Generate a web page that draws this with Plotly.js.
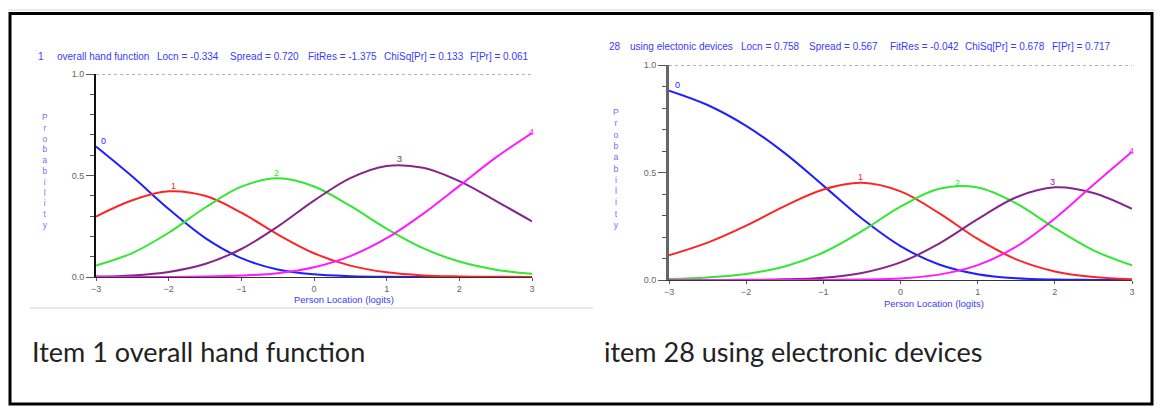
<!DOCTYPE html>
<html>
<head>
<meta charset="utf-8">
<script src="https://cdn.plot.ly/plotly-3.0.1.min.js"></script>
<style>html,body{margin:0;padding:0;background:#fff;}#chart{width:1160px;height:408px;}</style>
</head>
<body>
<div id="chart"></div>
<script>
// Person location (logits)
const logits = [-3, -2.5, -2, -1.5, -1, -0.5, 0, 0.5, 1, 1.5, 2, 2.5, 3];
const categories = ['0', '1', '2', '3', '4'];

// Item 1: overall hand function - category probabilities
const item1_cat0 = [0.643, 0.495, 0.335, 0.193, 0.093, 0.037, 0.013, 0.004, 0.001, 0.0003, 0.0001, 0, 0];
const item1_cat1 = [0.298, 0.378, 0.422, 0.400, 0.317, 0.210, 0.117, 0.056, 0.023, 0.008, 0.003, 0.001, 0.0002];
const item1_cat2 = [0.057, 0.118, 0.218, 0.341, 0.445, 0.486, 0.446, 0.350, 0.238, 0.142, 0.076, 0.036, 0.016];
const item1_cat3 = [0.002, 0.008, 0.025, 0.064, 0.138, 0.248, 0.376, 0.487, 0.547, 0.538, 0.472, 0.375, 0.274];
const item1_cat4 = [0, 0, 0.0004, 0.002, 0.007, 0.019, 0.048, 0.103, 0.191, 0.311, 0.449, 0.588, 0.709];

// Item 28: using electronic devices - category probabilities
const item28_cat0 = [0.881, 0.814, 0.717, 0.590, 0.439, 0.286, 0.158, 0.072, 0.027, 0.008, 0.002, 0.0005, 0.0001];
const item28_cat1 = [0.115, 0.174, 0.253, 0.344, 0.421, 0.452, 0.412, 0.311, 0.191, 0.096, 0.040, 0.014, 0.004];
const item28_cat2 = [0.005, 0.012, 0.028, 0.063, 0.128, 0.227, 0.341, 0.424, 0.430, 0.356, 0.241, 0.138, 0.068];
const item28_cat3 = [0, 0.0002, 0.001, 0.003, 0.011, 0.033, 0.082, 0.169, 0.283, 0.385, 0.431, 0.405, 0.331];
const item28_cat4 = [0, 0, 0, 0.0001, 0.0004, 0.002, 0.007, 0.025, 0.069, 0.155, 0.286, 0.443, 0.597];

// Header texts
const header1 = ['1', 'overall hand function', 'Locn = -0.334', 'Spread = 0.720', 'FitRes = -1.375', 'ChiSq[Pr] = 0.133', 'F[Pr] = 0.061'];
const header28 = ['28', 'using electonic devices', 'Locn = 0.758', 'Spread = 0.567', 'FitRes = -0.042', 'ChiSq[Pr] = 0.678', 'F[Pr] = 0.717'];
const captions = ['Item 1 overall hand function', 'item 28 using electronic devices'];
const xTitle = 'Person Location (logits)';
const yTitle = 'Probability';

const colors = ['#1f1fff', '#ff2424', '#30e830', '#86268a', '#ff1aff'];

const W = 1160, H = 408;
const px = v => v / W;
const py = v => 1 - v / H;

const series1 = [item1_cat0, item1_cat1, item1_cat2, item1_cat3, item1_cat4];
const series28 = [item28_cat0, item28_cat1, item28_cat2, item28_cat3, item28_cat4];

const traces = [];
series1.forEach((s, i) => traces.push({
  x: logits, y: s, xaxis: 'x', yaxis: 'y', type: 'scatter', mode: 'lines',
  name: categories[i], line: {color: colors[i], width: 2, shape: 'spline', smoothing: 1}, hoverinfo: 'skip'
}));
series28.forEach((s, i) => traces.push({
  x: logits, y: s, xaxis: 'x2', yaxis: 'y2', type: 'scatter', mode: 'lines',
  name: categories[i], line: {color: colors[i], width: 2, shape: 'spline', smoothing: 1}, hoverinfo: 'skip'
}));

const tickFont = {family: 'Liberation Sans, Arial, sans-serif', size: 9, color: '#666'};
const blue = '#3a3aff';
const hdrFont = {family: 'Liberation Sans Narrow, Liberation Sans, Arial, sans-serif', size: 10, color: blue};

function xAxis(domain, anchor) {
  return {domain: domain, range: [-3, 3], anchor: anchor, showgrid: false, zeroline: false,
    showline: true, linecolor: '#333', linewidth: 1, ticks: 'outside', ticklen: 3, tickcolor: '#555',
    tickmode: 'linear', tick0: -3, dtick: 1, tickfont: tickFont, fixedrange: true};
}
function yAxis(domain, anchor, lc, lw) {
  return {domain: domain, range: [0, 1], anchor: anchor, showgrid: false, zeroline: false,
    showline: true, linecolor: lc, linewidth: lw, ticks: 'outside', ticklen: 8, tickcolor: '#555',
    tickmode: 'linear', tick0: 0, dtick: 0.5, tickformat: '.1f', tickfont: tickFont,
    minor: {dtick: 0.1, tick0: 0, ticks: 'outside', ticklen: 4, tickcolor: '#555', showgrid: false},
    fixedrange: true};
}

const annotations = [];
// headers
const hdr1X = [36, 55, 155, 228, 306, 382, 468];
const hdr28X = [607, 628, 739, 807, 888, 963, 1050];
header1.forEach((t, i) => annotations.push({xref: 'paper', yref: 'paper', x: px(hdr1X[i]), y: py(57),
  xanchor: 'left', yanchor: 'middle', text: t, showarrow: false, font: hdrFont}));
header28.forEach((t, i) => annotations.push({xref: 'paper', yref: 'paper', x: px(hdr28X[i]), y: py(46.5),
  xanchor: 'left', yanchor: 'middle', text: t, showarrow: false, font: hdrFont}));

// y titles (stacked letters)
const stacked = yTitle.split('').join('<br>');
annotations.push({xref: 'paper', yref: 'paper', x: px(45), y: py(171), xanchor: 'center', yanchor: 'middle',
  text: stacked, showarrow: false, font: {family: 'Liberation Sans, Arial, sans-serif', size: 8.3, color: '#7070ff'}});
annotations.push({xref: 'paper', yref: 'paper', x: px(616), y: py(168), xanchor: 'center', yanchor: 'middle',
  text: stacked, showarrow: false, font: {family: 'Liberation Sans, Arial, sans-serif', size: 8.7, color: '#7070ff'}});

// x titles
const xtFont = {family: 'Liberation Sans Narrow, Liberation Sans, Arial, sans-serif', size: 9.5, color: blue};
annotations.push({xref: 'paper', yref: 'paper', x: px(344), y: py(299), xanchor: 'center', yanchor: 'middle',
  text: xTitle, showarrow: false, font: xtFont});
annotations.push({xref: 'paper', yref: 'paper', x: px(934), y: py(303), xanchor: 'center', yanchor: 'middle',
  text: xTitle, showarrow: false, font: xtFont});

// category labels
const lab1 = [[-2.9, 0.67], [-1.93, 0.448], [-0.52, 0.512], [1.18, 0.58], [2.99, 0.716]];
const lab28 = [[-2.89, 0.905], [-0.52, 0.48], [0.74, 0.452], [1.97, 0.457], [2.99, 0.6]];
lab1.forEach((p, i) => annotations.push({xref: 'x', yref: 'y', x: p[0], y: p[1], text: categories[i],
  showarrow: false, xanchor: 'center', yanchor: 'middle', font: {family: 'Liberation Sans, Arial, sans-serif', size: 9, color: colors[i]}}));
lab28.forEach((p, i) => annotations.push({xref: 'x2', yref: 'y2', x: p[0], y: p[1], text: categories[i],
  showarrow: false, xanchor: 'center', yanchor: 'middle', font: {family: 'Liberation Sans, Arial, sans-serif', size: 9, color: colors[i]}}));

// captions
const capFont = {family: 'Lato, Open Sans, sans-serif', size: 27, color: '#222'};
annotations.push({xref: 'paper', yref: 'paper', x: px(30), y: py(351), xanchor: 'left', yanchor: 'middle',
  text: captions[0], showarrow: false, font: capFont});
annotations.push({xref: 'paper', yref: 'paper', x: px(602), y: py(351), xanchor: 'left', yanchor: 'middle',
  text: captions[1], showarrow: false, font: capFont});

const shapes = [
  {type: 'line', xref: 'x', yref: 'y', x0: -3, x1: 3, y0: 1, y1: 1, line: {color: '#666', width: 1, dash: 'dot'}},
  {type: 'line', xref: 'x2', yref: 'y2', x0: -3, x1: 3, y0: 1, y1: 1, line: {color: '#666', width: 1, dash: 'dot'}},
  {type: 'line', xref: 'paper', yref: 'paper', x0: px(30), x1: px(593), y0: py(308), y1: py(308), line: {color: '#e8e8e8', width: 2}},
  {type: 'line', xref: 'paper', yref: 'paper', x0: px(8), x1: px(1154), y0: py(10), y1: py(10), line: {color: '#d8d8d8', width: 1}},
  {type: 'rect', xref: 'paper', yref: 'paper', x0: px(10), x1: px(1152), y0: py(13.5), y1: py(404), line: {color: '#000', width: 3}, fillcolor: 'rgba(0,0,0,0)'}
];

const layout = {
  width: W, height: H, margin: {l: 0, r: 0, t: 0, b: 0}, paper_bgcolor: '#fff', plot_bgcolor: 'rgba(0,0,0,0)',
  showlegend: false,
  xaxis: xAxis([96 / W, 532 / W], 'y'),
  yaxis: yAxis([1 - 277 / H, 1 - 74 / H], 'x', '#111', 2),
  xaxis2: xAxis([669 / W, 1132 / W], 'y2'),
  yaxis2: yAxis([1 - 280 / H, 1 - 65 / H], 'x2', '#666', 3),
  annotations: annotations, shapes: shapes
};

Plotly.newPlot('chart', traces, layout, {staticPlot: true, displayModeBar: false});
</script>
</body>
</html>
